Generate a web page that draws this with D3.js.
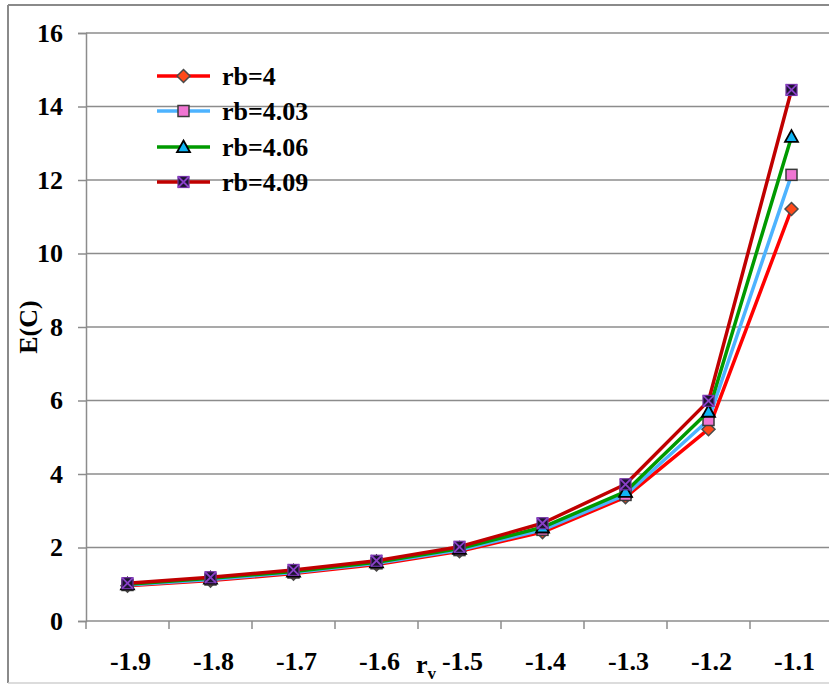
<!DOCTYPE html>
<html>
<head>
<meta charset="utf-8">
<script src="https://cdn.jsdelivr.net/npm/d3@7"></script>
<style>
  html, body { margin: 0; padding: 0; background: #fff; }
  svg { display: block; }
  text { font-family: "Liberation Serif", "Times New Roman", serif; font-weight: bold; fill: #000; }
</style>
</head>
<body>
<svg id="chart" width="829" height="684"></svg>
<script>
const categories = ["-1.9", "-1.8", "-1.7", "-1.6", "-1.5", "-1.4", "-1.3", "-1.2", "-1.1"];
const yTicks = [0, 2, 4, 6, 8, 10, 12, 14, 16];
const seriesNames = ["rb=4", "rb=4.03", "rb=4.06", "rb=4.09"];
const rb4    = [0.96, 1.10, 1.29, 1.54, 1.90, 2.42, 3.37, 5.22, 11.21];
const rb403  = [0.98, 1.13, 1.32, 1.57, 1.93, 2.48, 3.43, 5.47, 12.14];
const rb406  = [1.00, 1.16, 1.35, 1.60, 1.97, 2.55, 3.52, 5.70, 13.18];
const rb409  = [1.03, 1.19, 1.39, 1.64, 2.02, 2.66, 3.72, 5.99, 14.45];
const seriesValues = [rb4, rb403, rb406, rb409];

const lineColors = ["#ff0000", "#4db3ff", "#009a00", "#c00000"];
const markerTypes = ["diamond", "square", "triangle", "xsquare"];

(function () {
const svg = d3.select("#chart");
const W = 829;
const plotLeft = 86, plotTop = 33, plotBottom = 621, bandW = 83;

// outer border
svg.append("line").attr("x1", 8).attr("x2", 8).attr("y1", 5).attr("y2", 683).attr("stroke", "#8a8a8a").attr("stroke-width", 2);
svg.append("line").attr("x1", 8).attr("x2", W).attr("y1", 5).attr("y2", 5).attr("stroke", "#8a8a8a").attr("stroke-width", 2);
svg.append("line").attr("x1", 8).attr("x2", W).attr("y1", 683).attr("y2", 683).attr("stroke", "#d0d0d0").attr("stroke-width", 1.5);

const x = d3.scaleBand().domain(categories).range([plotLeft, plotLeft + bandW * categories.length]).padding(0);
const y = d3.scaleLinear().domain([0, 16]).range([plotBottom, plotTop]);

// gridlines
svg.append("g").selectAll("line").data(yTicks.filter(d => d > 0)).join("line")
  .attr("x1", plotLeft).attr("x2", W)
  .attr("y1", d => y(d)).attr("y2", d => y(d))
  .attr("stroke", "#8c8c8c").attr("stroke-width", 1.5);

// y axis
const yAxis = d3.axisLeft(y).tickValues(yTicks).tickSize(8).tickPadding(15).tickFormat(d3.format("d"));
const gy = svg.append("g").attr("transform", `translate(${plotLeft},0)`).call(yAxis);
gy.select(".domain").attr("stroke", "#8c8c8c").attr("stroke-width", 1.5);
gy.selectAll(".tick line").attr("stroke", "#8c8c8c").attr("stroke-width", 1.5);
gy.selectAll(".tick text").attr("font-size", 26).attr("font-family", "'Liberation Serif', 'Times New Roman', serif").attr("font-weight", "bold").attr("fill", "#000");

// x axis line
svg.append("line").attr("x1", plotLeft).attr("x2", W).attr("y1", plotBottom).attr("y2", plotBottom).attr("stroke", "#8c8c8c").attr("stroke-width", 1.5);
// x ticks at band boundaries
svg.append("g").selectAll("line").data(categories).join("line")
  .attr("x1", d => x(d)).attr("x2", d => x(d))
  .attr("y1", plotBottom).attr("y2", plotBottom + 8)
  .attr("stroke", "#8c8c8c").attr("stroke-width", 1.5);
// x labels
svg.append("g").selectAll("text").data(categories).join("text")
  .attr("x", d => x(d) + x.bandwidth() / 2 + 3)
  .attr("y", 670)
  .attr("text-anchor", "middle")
  .attr("font-size", 26)
  .text(d => d);

// axis titles
svg.append("text").attr("transform", "translate(37,327) rotate(-90)")
  .attr("text-anchor", "middle").attr("font-size", 26).text("E(C)");
const xt = svg.append("text").attr("x", 416).attr("y", 673).attr("font-size", 26);
xt.append("tspan").text("r");
xt.append("tspan").attr("font-size", 17).attr("dy", 6).text("v");

// marker drawing
function drawMarker(g, type, cx, cy) {
  if (type === "diamond") {
    const s = 6.5;
    g.append("path").attr("d", `M${cx},${cy - s}L${cx + s},${cy}L${cx},${cy + s}L${cx - s},${cy}Z`)
      .attr("fill", "#ff4a1a").attr("stroke", "#4a4a4a").attr("stroke-width", 1.5);
  } else if (type === "square") {
    const s = 5.5;
    g.append("rect").attr("x", cx - s).attr("y", cy - s).attr("width", 2 * s).attr("height", 2 * s)
      .attr("fill", "#f075d2").attr("stroke", "#3a3a3a").attr("stroke-width", 1.5);
  } else if (type === "triangle") {
    const s = 6.5;
    g.append("path").attr("d", `M${cx},${cy - s}L${cx + s},${cy + s * 0.8}L${cx - s},${cy + s * 0.8}Z`)
      .attr("fill", "#10b4f4").attr("stroke", "#000").attr("stroke-width", 1.8);
  } else {
    const s = 5.5;
    g.append("rect").attr("x", cx - s).attr("y", cy - s).attr("width", 2 * s).attr("height", 2 * s)
      .attr("fill", "#1c1430").attr("stroke", "#7030a0").attr("stroke-width", 1.2);
    g.append("path").attr("d", `M${cx - s},${cy - s}L${cx + s},${cy + s}M${cx + s},${cy - s}L${cx - s},${cy + s}`)
      .attr("stroke", "#8a40c8").attr("stroke-width", 1.8);
  }
}

// series
const line = d3.line().x((d, i) => x(categories[i]) + x.bandwidth() / 2).y(d => y(d));
seriesValues.forEach((vals, si) => {
  const g = svg.append("g");
  g.append("path").attr("d", line(vals)).attr("fill", "none")
    .attr("stroke", lineColors[si]).attr("stroke-width", 3.5).attr("stroke-linejoin", "round");
  vals.forEach((v, i) => drawMarker(g, markerTypes[si], x(categories[i]) + x.bandwidth() / 2, y(v)));
});

// legend
const legendY = [76, 111, 147, 182];
seriesNames.forEach((name, si) => {
  const g = svg.append("g");
  const ly = legendY[si];
  g.append("line").attr("x1", 157).attr("x2", 210).attr("y1", ly).attr("y2", ly)
    .attr("stroke", lineColors[si]).attr("stroke-width", 3.5);
  drawMarker(g, markerTypes[si], 183.5, ly);
  g.append("text").attr("x", 222).attr("y", ly + 9).attr("font-size", 26).text(name);
});
})();
</script>
</body>
</html>
